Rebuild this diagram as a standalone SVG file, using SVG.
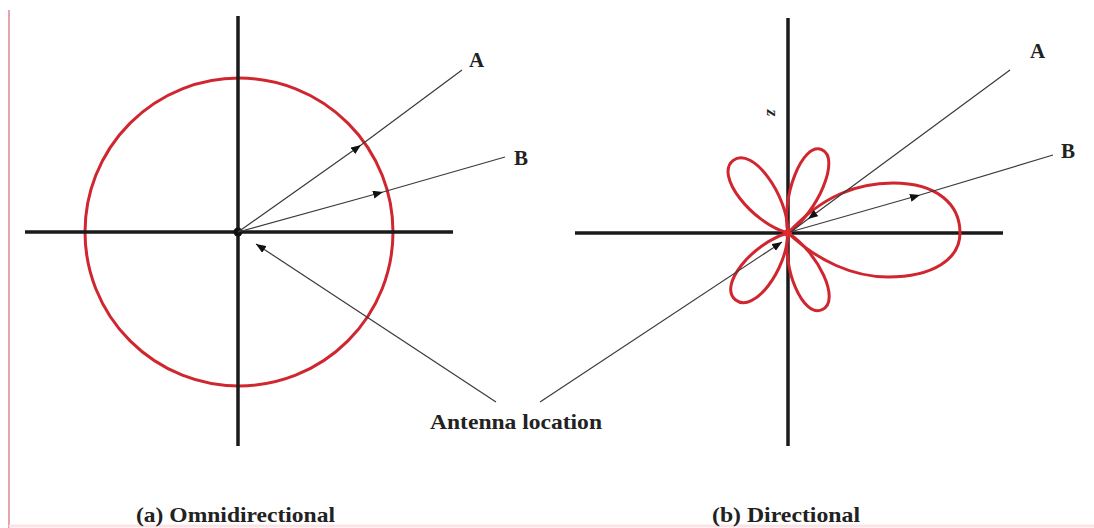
<svg xmlns="http://www.w3.org/2000/svg" width="1094" height="528" viewBox="0 0 1094 528">
  <style>
    .axis { stroke: #1a1a1a; stroke-width: 3.5; fill: none; }
    .lobe { stroke: #d0262f; stroke-width: 3; fill: none; stroke-linejoin: round; }
    .conn { stroke: #3a3a3a; stroke-width: 1.2; fill: none; }
    .lbl { font-family: "Liberation Serif", serif; font-weight: bold; fill: #222; }
  </style>
  <defs>
    <marker id="ah" viewBox="0 0 10 8" refX="10" refY="4" markerWidth="10" markerHeight="8" markerUnits="userSpaceOnUse" orient="auto">
      <path d="M0,0 L10,4 L0,8 Z" fill="#111"/>
    </marker>
  </defs>
  <rect width="1094" height="528" fill="#ffffff"/>
  <!-- frame -->
  <line x1="9" y1="10" x2="9" y2="528" stroke="#e6a5ad" stroke-width="2"/>
  <line x1="9" y1="526" x2="1094" y2="526" stroke="#fbe3e6" stroke-width="3"/>

  <g id="panel-a">
    <circle cx="239" cy="232" r="154" class="lobe"/>
    <line class="axis" x1="238" y1="16" x2="238" y2="446"/>
    <line class="axis" x1="25" y1="232" x2="453" y2="232"/>
    <circle cx="238" cy="232" r="4.5" fill="#111"/>
  </g>

  <g id="panel-b">
    <line class="axis" x1="788" y1="18" x2="788" y2="446"/>
    <line class="axis" x1="575" y1="233" x2="1003" y2="233"/>
    <g transform="translate(788,233)">
      <path class="lobe" d="M0,0 C35,-38 70,-50 105,-50 C150,-50 172,-28 172,0 C172,26 145,44 100,44 C65,44 30,28 0,0 Z"/>
      <path class="lobe" transform="rotate(-127)" d="M0,0 C30,-23 91,-24 91,0 C91,24 30,23 0,0 Z"/>
      <path class="lobe" transform="rotate(-68)" d="M0,0 C30,-20 90,-21 90,0 C90,21 30,20 0,0 Z"/>
      <path class="lobe" transform="rotate(128)" d="M0,0 C30,-22 85,-23 85,0 C85,23 30,22 0,0 Z"/>
      <path class="lobe" transform="rotate(66)" d="M0,0 C30,-20 84,-21 84,0 C84,21 30,20 0,0 Z"/>
    </g>
    <circle cx="788" cy="233" r="4" fill="#e02a30"/>
    <text class="lbl" x="0" y="0" font-size="17" font-style="italic" transform="translate(767,113) rotate(90)" text-anchor="middle">z</text>
  </g>

  <g id="connectors">
    <path class="conn" marker-mid="url(#ah)" d="M238,232 L361,145 L462,70"/>
    <path class="conn" marker-mid="url(#ah)" d="M238,232 L383,192 L505,157"/>
    <path class="conn" marker-end="url(#ah)" d="M496,402 L256,244"/>
    <path class="conn" marker-end="url(#ah)" d="M540,402 L782,242"/>
    <path class="conn" marker-mid="url(#ah)" d="M1010,70 L808,219 L792,231"/>
    <path class="conn" marker-mid="url(#ah)" d="M790,232 L920,195 L1053,155"/>
  </g>

  <g id="labels">
    <text class="lbl" x="469" y="67" font-size="21">A</text>
    <text class="lbl" x="514" y="165" font-size="21">B</text>
    <text class="lbl" x="1030" y="58" font-size="21">A</text>
    <text class="lbl" x="1061" y="158" font-size="21">B</text>
    <text class="lbl" x="430" y="429" font-size="22" textLength="172" lengthAdjust="spacingAndGlyphs">Antenna location</text>
    <text class="lbl" x="136" y="522" font-size="22" textLength="199" lengthAdjust="spacingAndGlyphs">(a) Omnidirectional</text>
    <text class="lbl" x="712" y="522" font-size="22" textLength="148" lengthAdjust="spacingAndGlyphs">(b) Directional</text>
  </g>
</svg>
